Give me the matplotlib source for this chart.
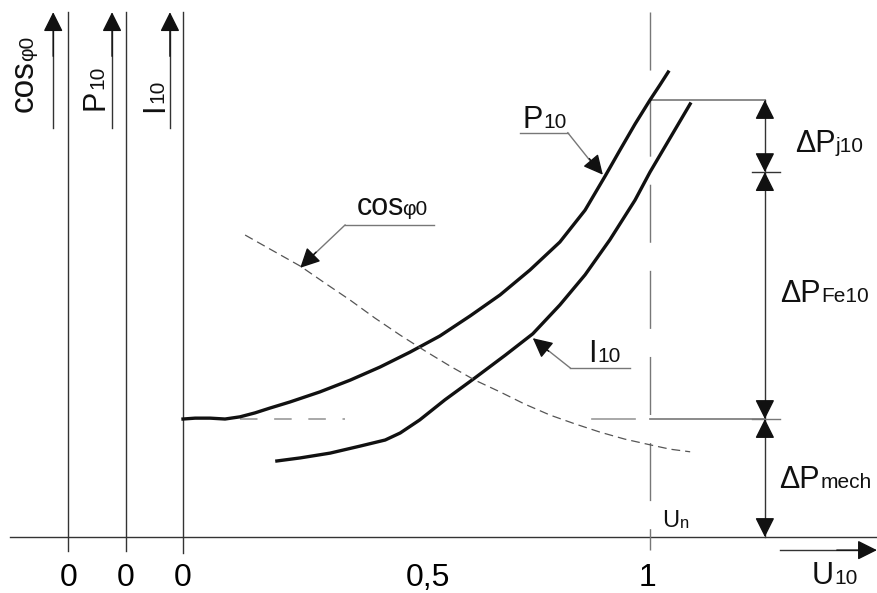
import matplotlib
matplotlib.use("Agg")
import matplotlib.pyplot as plt
from matplotlib.patches import ArrowStyle

plt.rcParams["font.family"] = ["Liberation Sans", "DejaVu Sans"]

# No-load characteristics versus relative voltage U10 / Un
u_p10 = [0.0, 0.026, 0.058, 0.090, 0.122, 0.154, 0.186, 0.229, 0.293, 0.358,
         0.422, 0.486, 0.550, 0.615, 0.679, 0.743, 0.807, 0.861, 0.904, 0.936,
         0.968, 1.0, 1.021, 1.039]
p10 = [0.270, 0.272, 0.272, 0.270, 0.275, 0.284, 0.295, 0.309, 0.332, 0.359,
       0.389, 0.423, 0.460, 0.506, 0.554, 0.611, 0.675, 0.748, 0.826, 0.886,
       0.945, 1.0, 1.034, 1.064]

u_i10 = [0.201, 0.251, 0.315, 0.379, 0.433, 0.465, 0.507, 0.561, 0.625, 0.690,
         0.749, 0.807, 0.861, 0.914, 0.968, 1.0, 1.043, 1.086]
i10 = [0.174, 0.181, 0.192, 0.208, 0.222, 0.238, 0.268, 0.314, 0.364, 0.416,
       0.465, 0.531, 0.600, 0.680, 0.771, 0.835, 0.913, 0.991]

u_cos = [0.133, 0.186, 0.251, 0.304, 0.358, 0.411, 0.465, 0.518, 0.572, 0.625,
         0.679, 0.732, 0.786, 0.839, 0.893, 0.946, 1.0, 1.043, 1.086]
cos_phi0 = [0.691, 0.659, 0.620, 0.581, 0.542, 0.501, 0.462, 0.426, 0.391, 0.359,
            0.332, 0.304, 0.279, 0.259, 0.240, 0.224, 0.211, 0.201, 0.195]

# Loss split at rated voltage
p_mech = 0.270     # mechanical losses (P10 at U -> 0)
p_fe_top = 0.835   # mechanical + iron losses
p_rated = 1.0      # total no-load power at Un

x_ticks = [0.0, 0.5, 1.0]
x_tick_labels = ["0", "0,5", "1"]

AX = "#333333"
GREY = "#777777"

fig = plt.figure(figsize=(8.77, 5.93), dpi=100)
ax = fig.add_axes([0, 0, 1, 1])
ax.set_xlim(-0.3919, 1.4861)
ax.set_ylim(-0.1281, 1.2288)
ax.axis("off")


def head(tip, tail, color="#111111", size=12, lw=1.0):
    ax.annotate("", xy=tip, xytext=tail,
                arrowprops=dict(arrowstyle=ArrowStyle("-|>", head_length=1.0, head_width=0.5),
                                mutation_scale=size, color=color, lw=lw,
                                shrinkA=0, shrinkB=0))


def label(x, y, main, sub, size=22, subsize=15, rotation=0, dx=0.5, dy=2.0,
          color="#111111"):
    """Main text with a subscript placed right after it."""
    if rotation == 0:
        t = ax.text(x, y, main, ha="left", va="baseline", fontsize=size, color=color)
        ax.annotate(sub, xy=(1, 0), xycoords=t, xytext=(dx, dy), textcoords="offset points",
                    ha="left", va="bottom", fontsize=subsize, color=color)
    else:
        t = ax.text(x, y, main, ha="left", va="baseline", fontsize=size, color=color,
                    rotation=90, rotation_mode="anchor")
        ax.annotate(sub, xy=(1, 1), xycoords=t, xytext=(-dy, dx), textcoords="offset points",
                    ha="right", va="bottom", fontsize=subsize, color=color, rotation=90)


# horizontal axis and U10 arrow
ax.plot([-0.370, 1.486], [0, 0], color=AX, lw=1.0)
ax.plot([1.278, 1.45], [-0.030, -0.030], color=AX, lw=1.0)
head((1.486, -0.030), (1.40, -0.030))

# vertical axes for cos phi0, P10 and I10
x_cos_axis, x_p_axis = -0.246, -0.122
for xa, ybot in [(x_cos_axis, -0.032), (x_p_axis, -0.032), (0.0, -0.037)]:
    ax.plot([xa, xa], [ybot, 1.201], color=AX, lw=1.0)

for xs in [-0.278, -0.152, -0.028]:
    ax.plot([xs, xs], [0.936, 1.16], color=AX, lw=1.0)
    head((xs, 1.201), (xs, 1.10))

# rotated axis titles
label(-0.321, 0.973, "cos", "φ0", size=24, subsize=15, rotation=90, dx=-1.0)
label(-0.171, 0.977, "P", "10", size=22, subsize=15, rotation=90)
label(-0.043, 0.973, "I", "10", size=22, subsize=15, rotation=90)

# tick labels
y_lab = -0.112
for xa in [x_cos_axis, x_p_axis]:
    ax.text(xa, y_lab, "0", ha="center", va="baseline", fontsize=23)
label_x = {0.0: 0.0, 0.5: 0.525, 1.0: 0.994}
for xv, lab in zip(x_ticks, x_tick_labels):
    ax.text(label_x[xv], y_lab, lab, ha="center", va="baseline", fontsize=23)
label(1.347, -0.108, "U", "10", size=22, subsize=15)
label(1.026, 0.023, "U", "n", size=17, subsize=12, dy=1.0)

# rated voltage marker
vline, = ax.plot([1.0, 1.0], [1.201, -0.030], color=GREY, lw=1.0)
vline.set_dashes((41.8, 20.2))

# mechanical loss level
hl, = ax.plot([0.122, 0.347], [p_mech, p_mech], color="#999999", lw=1.2)
hl.set_dashes((10.5, 10))
ax.plot([0.876, 0.968], [p_mech, p_mech], color="#999999", lw=1.2)
ax.plot([1.0, 1.246], [p_mech, p_mech], color=GREY, lw=1.2)
ax.plot([1.0, 1.246], [p_rated, p_rated], color=GREY, lw=1.2)

# dimension line of the loss components
xd = 1.246
ax.plot([xd, xd], [0, p_rated], color=AX, lw=1.0)
ax.plot([xd - 0.028, xd + 0.032], [p_fe_top, p_fe_top], color=AX, lw=1.0)
ax.plot([xd - 0.028, xd + 0.032], [p_mech, p_mech], color=GREY, lw=1.0)
hl_len = 0.039
head((xd, p_rated), (xd, p_rated - hl_len))
head((xd, p_fe_top), (xd, p_fe_top + hl_len))
head((xd, p_fe_top), (xd, p_fe_top - hl_len))
head((xd, p_mech), (xd, p_mech + hl_len))
head((xd, p_mech), (xd, p_mech - hl_len))
head((xd, 0.0), (xd, hl_len))

label(1.310, 0.881, "ΔP", "j10", size=22, subsize=15)
label(1.278, 0.538, "ΔP", "Fe10", size=22, subsize=15)
label(1.276, 0.112, "ΔP", "mech", size=22, subsize=15)

# curves
ax.plot(u_p10, p10, color="#111111", lw=2.4, solid_joinstyle="round")
ax.plot(u_i10, i10, color="#111111", lw=2.4, solid_joinstyle="round")
cl, = ax.plot(u_cos, cos_phi0, color="#555555", lw=0.9)
cl.set_dashes((7, 4))

# curve labels with leader lines
label(0.726, 0.936, "P", "10", size=22, subsize=15)
ax.plot([0.722, 0.824], [0.925, 0.925], color=GREY, lw=1.0)
ax.plot([0.824, 0.880], [0.925, 0.850], color=GREY, lw=1.0)
head((0.899, 0.829), (0.870, 0.866), size=12)

label(0.373, 0.737, "cos", "φ0", size=22, subsize=15, dx=-1.5)
ax.plot([0.347, 0.537], [0.714, 0.714], color=GREY, lw=1.0)
ax.plot([0.347, 0.270], [0.714, 0.636], color=GREY, lw=1.0)
head((0.251, 0.616), (0.285, 0.652), size=12)

label(0.867, 0.400, "I", "10", size=22, subsize=15)
ax.plot([0.829, 0.957], [0.387, 0.387], color=GREY, lw=1.0)
ax.plot([0.829, 0.770], [0.387, 0.437], color=GREY, lw=1.0)
head((0.749, 0.455), (0.783, 0.425), size=12)

fig.savefig("out.png", dpi=100)
